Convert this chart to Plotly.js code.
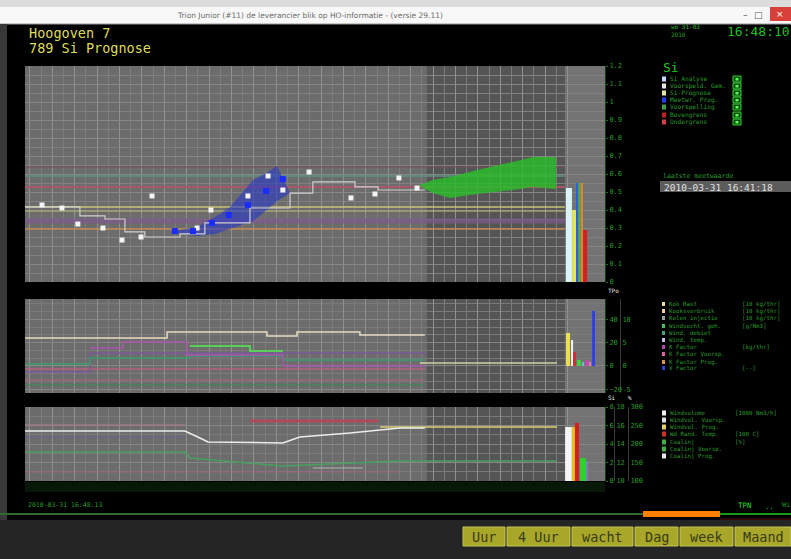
<!DOCTYPE html>
<html><head><meta charset="utf-8">
<script src="https://cdn.plot.ly/plotly-3.0.1.min.js"></script>
<style>html,body{margin:0;padding:0;background:#000;}#chart{width:791px;height:559px;}</style>
</head><body><div id="chart"></div>
<script>
// ================= DATA =================
// x = hours since the first tick (tick 0 = 23:00 previous day)
const hourTicks  = [0,1,2,3,4,5,6,7,8,9,10,11,12,13,14,15,16,17,18,19,20,21,22,23,24];
const hourLabels = ["23","00","01","02","03","04","05","06","07","08","09","10","11","12","13","14","15","16","17","18","19","20","21","22","23"];
const halfTicks  = [0.5,1.5,2.5,3.5,4.5,5.5,6.5,7.5,8.5,9.5,10.5,11.5,12.5,13.5,14.5,15.5,16.5,17.5,18.5,19.5,20.5,21.5,22.5,23.5];
const forecastStart = 17.72;   // "now" 16:48
const barRegionStart = 23.88;

// ---- panel 1 : Si ----
const siStepX = [-0.22, 2.23, 3.35, 4.24, 5.13, 6.70, 7.81, 9.82, 11.61, 12.63, 14.51, 15.54, 17.63];
const siStepY = [0.417, 0.367, 0.350, 0.278, 0.250, 0.267, 0.328, 0.411, 0.494, 0.556, 0.528, 0.511, 0.511];
const siAnalyseX = [0.54, 1.43, 2.14, 3.26, 4.11, 4.96, 5.45, 7.46, 8.08, 9.73, 10.63, 11.29, 12.46, 14.33, 15.40, 16.47, 17.28];
const siAnalyseY = [0.428, 0.411, 0.322, 0.300, 0.233, 0.250, 0.478, 0.300, 0.400, 0.478, 0.589, 0.511, 0.611, 0.467, 0.489, 0.578, 0.522];
const siPredX = [6.47, 7.28, 8.13, 8.88, 9.73, 10.54, 11.29];
const siPredY = [0.283, 0.283, 0.328, 0.372, 0.428, 0.506, 0.572];
const bandX  = [6.47, 7.46, 8.26, 8.93, 9.96, 10.63, 11.03, 11.61];
const bandLo = [0.272, 0.256, 0.267, 0.294, 0.339, 0.406, 0.450, 0.494];
const bandHi = [0.283, 0.306, 0.361, 0.417, 0.567, 0.611, 0.644, 0.494];
const fcX  = [17.41, 17.99, 18.75, 19.96, 21.56, 22.46, 23.48];
const fcLo = [0.533, 0.494, 0.467, 0.489, 0.511, 0.528, 0.517];
const fcHi = [0.539, 0.567, 0.583, 0.622, 0.667, 0.694, 0.694];
const limitX = [-0.22, 23.88];
const limitValues = [0.639, 0.589, 0.528, 0.417, 0.394, 0.339, 0.294];
const bar1X = [24.06, 24.29, 24.42, 24.53, 24.64, 24.78];
const bar1Y = [0.522, 0.40, 0.55, 0.55, 0.55, 0.289];

// ---- panel 2 : burden / factors ----
const c2KokX = [-0.22, 6.12, 10.58, 11.92, 14.73, 17.63];
const c2KokY = [24.0, 29.2, 25.8, 29.2, 26.6, 26.6];
const c2GreenX = [7.14, 9.82, 11.29];
const c2GreenY = [17.2, 12.9, 12.9];
const c2TealX = [-0.22, 2.68, 7.14, 11.29, 17.63];
const c2TealY = [1.7, 6.9, 8.6, 5.2, 5.2];
const c2PurpleX = [-0.22, 2.68, 17.63];
const c2PurpleY = [-5.2, 11.2, 9.4];
const c2MagentaX = [2.68, 4.15, 7.01, 11.29, 17.63];
const c2MagentaY = [15.5, 20.6, 9.4, 0.0, 0.0];
const c2PinkX = [-0.22, 17.63];
const c2PinkY = [-2.6, -2.6];
const c2Pink2Y = [-12.0, -12.0];
const c2Green2Y = [-16.3, -16.3];
const c2FcX = [17.41, 23.53];
const c2FcY = [2.6, 2.6];
const bar2X = [24.02, 24.20, 24.31, 24.51, 24.69, 24.87, 25.00, 25.16];
const bar2Y = [28.3, 22.3, 12.0, 5.2, 3.4, 5.2, 3.4, 47.2];

// ---- panel 3 : wind ----
const c3WhiteX = [-0.22, 6.92, 7.59, 7.95, 11.29, 12.05, 14.29, 16.52, 17.63];
const c3WhiteY = [67.6, 67.6, 58.1, 52.7, 51.4, 59.5, 64.9, 71.6, 71.6];
const c3RedX = [9.82, 15.54];
const c3RedY = [81.1, 81.1];
const c3PinkX = [-0.22, 6.92];
const c3PinkY = [75.7, 75.7];
const c3YellowX = [15.63, 23.53];
const c3YellowY = [73.0, 73.0];
const c3GreenX = [-0.22, 6.92, 7.14, 11.29, 16.52, 23.53];
const c3GreenY = [39.2, 39.2, 31.1, 20.3, 27.0, 27.0];
const c3PurpleX = [-0.22, 6.92];
const c3PurpleY = [59.5, 59.5];
const c3Pink2X = [-0.22, 16.52];
const c3Pink2Y = [12.2, 12.2];
const c3GrayX = [12.63, 14.87];
const c3GrayY = [17.6, 17.6];
const bar3X = [24.04, 24.26, 24.42, 24.69, 24.87];
const bar3Y = [73, 73, 78.4, 31, 27];

// ---- texts ----
const legend1Names = ["Si Analyse","Voorspeld. Gem.","Si-Prognose","Meetwr. Prog.","Voorspelling","Bovengrens","Ondergrens"];
const legend2Names = ["Kok Rast","Kooksverbruik","Kolen injectie","Windvocht. geh.","Wind. debiet","Wind. temp.","K Factor","K Factor Voorsp.","K Factor Prog.","V Factor"];
const legend2Units = ["[10 kg/thr]","[10 kg/thr]","[10 kg/thr]","[g/Nm3]","","","[kg/thr]","","","[--]"];
const legend3Names = ["Windvolume","Windvol. Voorsp.","Windvol. Prog.","Wd Rand. Temp.","Coalinj","Coalinj Voorsp.","Coalinj Prog."];
const legend3Units = ["[1000 Nm3/h]","","","[100 C]","[%]","",""];
const buttonLabels = ["Uur","4 Uur","wacht","Dag","week","Maand"];

// ================= STYLE =================
const W = 791, H = 559;
const px = x => x / W, py = y => 1 - y / H;
const MONO = 'DejaVu Sans Mono, monospace';
const GREEN = '#2a9a2a';
const limitColors = ['#7a4a58','#5f9080','#a85868','#c8c474','#b8b86e','rgba(125,90,140,0.75)','#c08a50'];
const limitWidths = [1, 1.5, 2, 1.5, 1, 5, 1.5];
const bar1Colors = ['#d8f4f4','#e4e460','#2f5fe0','#40c040','#e08a20','#d02020'];
const bar1Widths = [0.27, 0.18, 0.09, 0.07, 0.09, 0.18];
const bar2Colors = ['#e8e050','#f4f4f4','#d03030','#40d040','#60c8c8','#d040c0','#e080a0','#3040e8'];
const bar2Widths = [0.18, 0.09, 0.13, 0.18, 0.09, 0.13, 0.09, 0.13];
const bar3Colors = ['#f5f5f5','#e8c020','#d02020','#30d030','#8080c0'];
const bar3Widths = [0.30, 0.13, 0.18, 0.27, 0.09];
const legend1Colors = ['#c8d8ff','#e8e8e8','#e6e6a0','#2040ff','#40a040','#c02020','#d04040'];
const legend2Colors = ['#e6e0a0','#f0d0a0','#a0a0a0','#40c060','#40a080','#c0c0e0','#b040b0','#e060a0','#e09040','#3040e0'];
const legend3Colors = ['#f0f0f0','#e0e0e0','#e0d060','#d03020','#40b040','#40b040','#e8e8e8'];

function ln(x, y, color, width, ya, shape) {
  return {type:'scatter', mode:'lines', x:x, y:y, xaxis:'x', yaxis:ya, line:{color:color, width:width, shape:shape||'linear'}, hoverinfo:'skip', showlegend:false};
}
const traces = [];
// panel 1
limitValues.forEach((v, i) => traces.push(ln(limitX, [v, v], limitColors[i], limitWidths[i], 'y')));
traces.push(ln(bandX, bandLo, 'rgba(0,0,0,0)', 0, 'y'));
traces.push(Object.assign(ln(bandX, bandHi, 'rgba(0,0,0,0)', 0, 'y'), {fill:'tonexty', fillcolor:'rgba(40,55,200,0.6)'}));
traces.push(ln(fcX, fcLo, 'rgba(0,0,0,0)', 0, 'y'));
traces.push(Object.assign(ln(fcX, fcHi, 'rgba(0,0,0,0)', 0, 'y'), {fill:'tonexty', fillcolor:'rgba(40,190,40,0.82)'}));
traces.push(ln(siStepX, siStepY, '#cfcfcf', 1.2, 'y', 'hv'));
traces.push({type:'scatter', mode:'markers', x:siAnalyseX, y:siAnalyseY, xaxis:'x', yaxis:'y', marker:{symbol:'square', size:5, color:'#f4f4f4'}, hoverinfo:'skip', showlegend:false});
traces.push({type:'scatter', mode:'markers', x:siPredX, y:siPredY, xaxis:'x', yaxis:'y', marker:{symbol:'square', size:6, color:'#1a2cff'}, hoverinfo:'skip', showlegend:false});
traces.push({type:'bar', x:bar1X, y:bar1Y, width:bar1Widths, xaxis:'x', yaxis:'y', marker:{color:bar1Colors, line:{width:0}}, hoverinfo:'skip', showlegend:false});
// panel 2
traces.push(ln(c2PinkX, c2Green2Y, '#3a8a5a', 1, 'y2', 'hv'));
traces.push(ln(c2PinkX, c2Pink2Y, '#b06080', 1, 'y2', 'hv'));
traces.push(ln(c2PinkX, c2PinkY, '#b86080', 1.5, 'y2', 'hv'));
traces.push(ln(c2PurpleX, c2PurpleY, '#7a5a9a', 1.5, 'y2', 'hv'));
traces.push(ln(c2TealX, c2TealY, '#3c9a70', 1.5, 'y2', 'hv'));
traces.push(ln(c2MagentaX, c2MagentaY, 'rgba(170,85,170,0.8)', 2, 'y2', 'hv'));
traces.push(ln(c2GreenX, c2GreenY, '#58d058', 2, 'y2', 'hv'));
traces.push(ln(c2KokX, c2KokY, '#e6dcc0', 1.5, 'y2', 'hv'));
traces.push(ln(c2FcX, c2FcY, '#d0d0a8', 1.5, 'y2'));
traces.push({type:'bar', x:bar2X, y:bar2Y, width:bar2Widths, xaxis:'x', yaxis:'y2', marker:{color:bar2Colors, line:{width:0}}, hoverinfo:'skip', showlegend:false});
// panel 3
traces.push(ln(c3Pink2X, c3Pink2Y, '#a06080', 1, 'y3'));
traces.push(ln(c3PurpleX, c3PurpleY, '#706090', 1, 'y3'));
traces.push(ln(c3PinkX, c3PinkY, '#b07a8a', 1, 'y3'));
traces.push(ln(c3RedX, c3RedY, '#b04a5a', 3, 'y3'));
traces.push(ln(c3GrayX, c3GrayY, '#b0b8b0', 1, 'y3'));
traces.push(ln(c3GreenX, c3GreenY, '#48a060', 1.5, 'y3'));
traces.push(ln(c3YellowX, c3YellowY, '#d8d070', 1.5, 'y3'));
traces.push(ln(c3WhiteX, c3WhiteY, '#ececec', 1.5, 'y3'));
traces.push({type:'bar', x:bar3X, y:bar3Y, width:bar3Widths, xaxis:'x', yaxis:'y3', marker:{color:bar3Colors, line:{width:0}}, hoverinfo:'skip', showlegend:false});
// empty traces so the extra scale axes exist
['y4','y5','y6'].forEach(a => traces.push({type:'scatter', x:[], y:[], xaxis:'x', yaxis:a, showlegend:false, hoverinfo:'skip'}));

// ---------- shapes ----------
const shapes = [];
function rect(x0, y0, x1, y1, fill, lc, lw) {
  shapes.push({type:'rect', xref:'paper', yref:'paper', x0:px(x0), x1:px(x1), y0:py(y1), y1:py(y0), fillcolor:fill, line:{color:lc||fill, width:lw||0}, layer:'above'});
}
function hline(x0, x1, y, color, w) {
  shapes.push({type:'line', xref:'paper', yref:'paper', x0:px(x0), x1:px(x1), y0:py(y), y1:py(y), line:{color:color, width:w}});
}
['y','y2','y3'].forEach(ya => {
  shapes.push({type:'rect', xref:'x', yref:ya + ' domain', x0:forecastStart, x1:barRegionStart, y0:0, y1:1, fillcolor:'rgba(0,0,0,0.21)', line:{width:0}, layer:'below'});
  shapes.push({type:'rect', xref:'x', yref:ya + ' domain', x0:barRegionStart, x1:25.67, y0:0, y1:1, fillcolor:'rgba(255,255,255,0.05)', line:{width:0}, layer:'below'});
});
// window chrome
rect(0, 0, 791, 7, '#dcdcdc');
rect(0, 7, 791, 24, '#f8f8f8');
hline(0, 791, 24, '#9a9a9a', 1);
rect(770, 7, 791, 21, '#d8413a');
rect(0, 24, 7, 520, '#383838');
rect(0, 520, 791, 559, '#252525');
// x tick strip
rect(25, 482, 605, 492, '#081808');
// bottom status line
hline(0, 643, 514, '#2f6a2f', 2);
rect(643, 511, 720, 517, '#ff8000');
hline(720, 791, 514, '#22cc22', 1.5);
hline(720, 791, 519, '#5a1010', 1);
// buttons
const btnX = [[463,505],[507,570],[572,633],[635,678],[680,733],[735,791]];
btnX.forEach(b => rect(b[0], 527, b[1], 546, '#a8a72a', '#c4c455', 1));
// date box
rect(660, 181, 791, 192, '#5c5c5c');
// legend squares + check boxes
const l1Y = [79, 86, 93, 100, 107, 115, 122];
l1Y.forEach((y, i) => {
  rect(662, y - 2.5, 666, y + 2.5, legend1Colors[i]);
  rect(733, y - 3, 741, y + 3, '#0e4a0e', '#30d030', 1);
  rect(735.5, y - 1, 738.5, y + 1.5, '#50ff50');
});
const l2Y = [304, 311, 318, 326, 333, 340, 347, 354, 362, 368];
l2Y.forEach((y, i) => rect(662, y - 2, 665, y + 2, legend2Colors[i]));
const l3Y = [413, 420, 427, 434, 442, 449, 456];
l3Y.forEach((y, i) => rect(662, y - 2.5, 666, y + 2.5, legend3Colors[i]));

// ---------- annotations ----------
const ann = [];
function txt(x, y, t, color, size, anchor, family) {
  ann.push({xref:'paper', yref:'paper', x:px(x), y:py(y), text:t, showarrow:false, xanchor:anchor||'left', yanchor:'middle',
    font:{color:color, size:size, family:family||MONO}, borderpad:0});
}
txt(310, 16, 'Trion Junior (#11) de leverancier blik op HO-informatie - (versie 29.11)', '#6a6a6a', 7.5, 'center', 'DejaVu Sans, sans-serif');
txt(745, 15, '–', '#555', 9, 'center', 'DejaVu Sans');
txt(758, 15, '□', '#555', 9, 'center', 'DejaVu Sans');
txt(780, 14, '×', '#ffffff', 9, 'center', 'DejaVu Sans');
txt(28, 33, 'Hoogoven 7', '#dede5a', 13.5);
txt(28, 48, '789 Si Prognose', '#dede5a', 13.5);
txt(726, 31, '16:48:10', '#1fbf1f', 13);
txt(670, 27, 'wo 31-03', '#1fbf1f', 6);
txt(670, 35, '2010', '#1f9f1f', 6);
txt(662, 67, 'Si', '#22c022', 13);
legend1Names.forEach((n, i) => txt(669, l1Y[i], n, GREEN, 6.2));
txt(662, 176, 'laatste meetwaarde', GREEN, 6.5);
txt(663, 187, '2010-03-31 16:41:18', '#e0e0e0', 9.5);
legend2Names.forEach((n, i) => { txt(668, l2Y[i], n, GREEN, 5.8); if (legend2Units[i]) txt(741, l2Y[i], legend2Units[i], GREEN, 5.8); });
legend3Names.forEach((n, i) => { txt(669, l3Y[i], n, GREEN, 5.8); if (legend3Units[i]) txt(734, l3Y[i], legend3Units[i], GREEN, 5.8); });
txt(607, 290, 'TPo', '#e0e0e0', 6);
txt(607, 397, 'Si', '#e0e0e0', 6);
txt(627, 397, '%', '#e0e0e0', 6);
txt(27, 505, '2010-03-31 16:48:13', GREEN, 6.5);
txt(737, 505, 'TPN', '#22dd22', 7.5);
txt(764, 507, '..', '#22dd22', 7);
txt(781, 505, 'Wi', '#1a8a1a', 7);
buttonLabels.forEach((b, i) => txt((btnX[i][0] + btnX[i][1]) / 2, 536.5, b, '#3a3a12', 13.5, 'center'));

const yBase = {side:'right', anchor:'x', zeroline:false, showgrid:true, gridcolor:'#868686', gridwidth:1,
  ticks:'outside', ticklen:2, tickcolor:'#1f6f1f', tickfont:{size:7, color:GREEN, family:MONO},
  showline:true, linecolor:'#123a12', fixedrange:true};
const layout = {
  width:W, height:H, margin:{l:0, r:0, t:0, b:0, pad:0},
  paper_bgcolor:'#000', plot_bgcolor:'#6c6c6c', showlegend:false, barmode:'overlay',
  font:{family:MONO, color:GREEN, size:7},
  xaxis:{domain:[px(25), px(605)], range:[-0.22, 25.67], anchor:'y3', tickmode:'array', tickvals:hourTicks, ticktext:hourLabels,
    tickfont:{size:7, color:GREEN, family:MONO}, ticks:'', showgrid:true, gridcolor:'#909090', gridwidth:1, zeroline:false, showline:false,
    minor:{tickmode:'array', tickvals:halfTicks, showgrid:true, gridcolor:'#7c7c7c', gridwidth:1, ticks:''}, fixedrange:true},
  yaxis:Object.assign({}, yBase, {domain:[py(282), py(66)], range:[0, 1.2], tickmode:'linear', tick0:0, dtick:0.1,
    minor:{tickmode:'linear', tick0:0.05, dtick:0.1, showgrid:true, gridcolor:'#808080'}}),
  yaxis2:Object.assign({}, yBase, {domain:[py(393), py(299)], range:[-23.2, 57.5], tickmode:'linear', tick0:0, dtick:20,
    minor:{tickmode:'linear', tick0:0, dtick:6.6667, showgrid:true, gridcolor:'#7a7a7a'}}),
  yaxis3:Object.assign({}, yBase, {domain:[py(481), py(407)], range:[0, 100], tickmode:'array', tickvals:[0,25,50,75,100], ticktext:['0','2','4','6','8'],
    minor:{tickmode:'linear', tick0:0, dtick:12.5, showgrid:true, gridcolor:'#7a7a7a'}}),
  yaxis4:{overlaying:'y2', anchor:'free', position:px(620), side:'right', range:[-23.2, 57.5], tickmode:'array', tickvals:[-20,0,20,40], ticktext:['-5','0','5','10'],
    showgrid:false, zeroline:false, showline:true, linecolor:'#3a3a3a', ticks:'', tickfont:{size:7, color:GREEN, family:MONO}, fixedrange:true},
  yaxis5:{overlaying:'y3', anchor:'free', position:px(614), side:'right', range:[0, 100], tickmode:'array', tickvals:[0,25,50,75,100], ticktext:['10','12','14','16','18'],
    showgrid:false, zeroline:false, showline:true, linecolor:'#3a3a3a', ticks:'', tickfont:{size:7, color:GREEN, family:MONO}, fixedrange:true},
  yaxis6:{overlaying:'y3', anchor:'free', position:px(628), side:'right', range:[0, 100], tickmode:'array', tickvals:[0,25,50,75,100], ticktext:['100','150','200','250','300'],
    showgrid:false, zeroline:false, showline:true, linecolor:'#3a3a3a', ticks:'', tickfont:{size:7, color:GREEN, family:MONO}, fixedrange:true},
  shapes:shapes, annotations:ann
};
Plotly.newPlot('chart', traces, layout, {displayModeBar:false, staticPlot:true});
</script>
</body></html>
